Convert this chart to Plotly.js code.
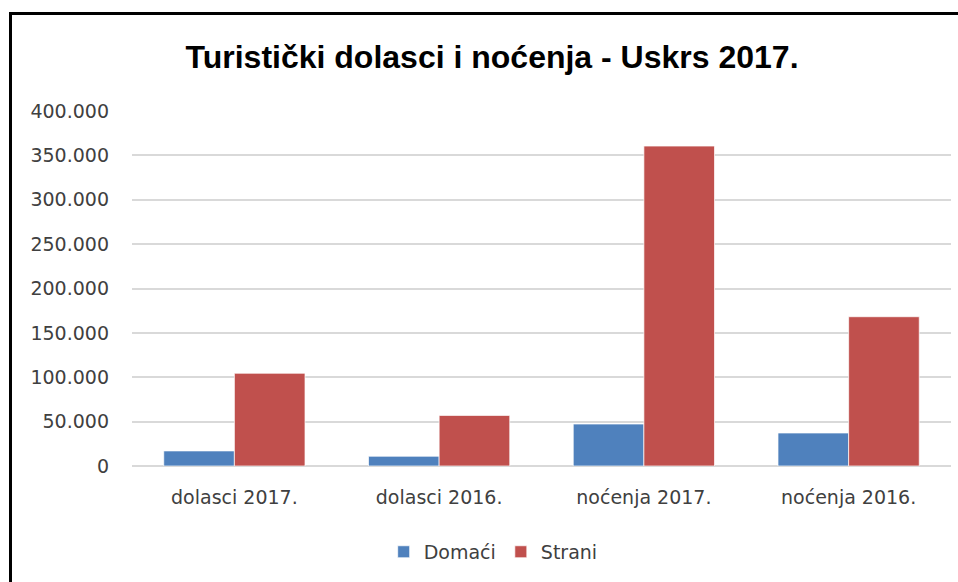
<!DOCTYPE html>
<html>
<head>
<meta charset="utf-8">
<script src="https://cdn.plot.ly/plotly-3.0.1.min.js"></script>
<style>
  html, body { margin: 0; padding: 0; background: #fff; }
  #wrap { position: relative; width: 958px; height: 582px; overflow: hidden; }
  #chart { position: absolute; left: 0; top: 0; width: 958px; height: 582px; }
  #frame { position: absolute; left: 9px; top: 12px; width: 960px; height: 600px;
           border-left: 3px solid #000; border-top: 3px solid #000; pointer-events: none; }
</style>
</head>
<body>
<div id="wrap">
  <div id="chart"></div>
  <div id="frame"></div>
</div>
<script>
const categories = ["dolasci 2017.", "dolasci 2016.", "noćenja 2017.", "noćenja 2016."];
const domaci = [17000, 11000, 47300, 37200];
const strani = [104500, 57000, 360500, 168200];
const seriesNames = ["Domaći", "Strani"];
const chartTitle = "Turistički dolasci i noćenja - Uskrs 2017.";

const tickFont = { family: "DejaVu Sans", size: 19, color: "#404040" };

const traces = [
  { type: "bar", name: seriesNames[0], x: categories, y: domaci,
    marker: { color: "#4F81BD", line: { color: "rgba(255,255,255,0.7)", width: 1 } } },
  { type: "bar", name: seriesNames[1], x: categories, y: strani,
    marker: { color: "#C0504D", line: { color: "rgba(255,255,255,0.7)", width: 1 } } }
];

const layout = {
  width: 958, height: 582,
  margin: { l: 132, r: 7, t: 111, b: 116 },
  paper_bgcolor: "#ffffff", plot_bgcolor: "#ffffff",
  separators: ",.",
  barmode: "group", bargap: 0.31, bargroupgap: 0,
  hovermode: false,
  title: {
    text: chartTitle,
    font: { family: "Liberation Sans", size: 32, color: "#000", weight: "bold" },
    x: 0.5136, xref: "container", xanchor: "center",
    y: 1 - 57 / 582, yref: "container", yanchor: "middle"
  },
  xaxis: {
    type: "category",
    tickfont: tickFont,
    showgrid: false, showline: false, zeroline: false,
    ticks: "", ticklabelstandoff: 18
  },
  yaxis: {
    range: [0, 400000], dtick: 50000, tick0: 0,
    tickformat: ",d",
    tickfont: tickFont,
    showgrid: true, gridcolor: "#D9D9D9", gridwidth: 2,
    zeroline: true, zerolinecolor: "#D9D9D9", zerolinewidth: 2,
    showline: false, ticks: "", ticklabelstandoff: 22
  },
  showlegend: true,
  legend: {
    orientation: "h", x: 0.441, xanchor: "center", y: -0.242, yanchor: "middle",
    font: tickFont, itemwidth: 30, traceorder: "normal"
  }
};

Plotly.newPlot("chart", traces, layout, { displayModeBar: false, staticPlot: true });
</script>
</body>
</html>
